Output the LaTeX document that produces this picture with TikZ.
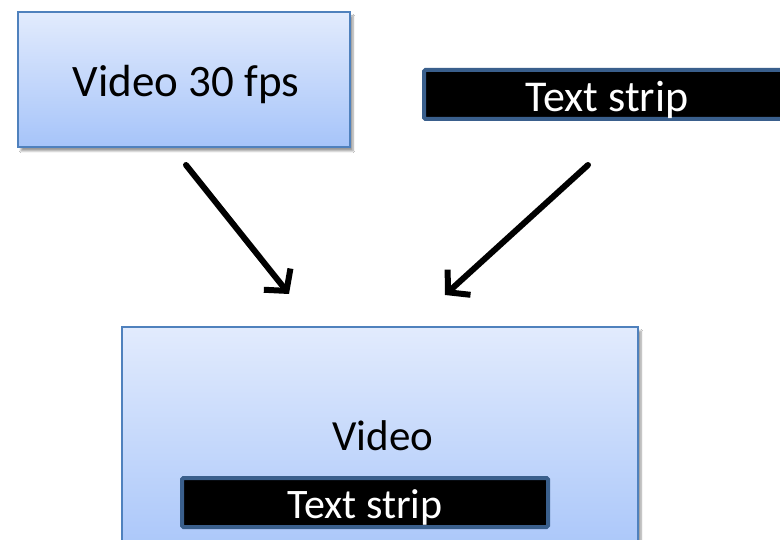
\documentclass[tikz,border=0pt]{standalone}
\usepackage{fontspec}
\setmainfont{Carlito}
\usetikzlibrary{arrows.meta,shadows.blur}
\definecolor{boxtop}{RGB}{226,235,253}
\definecolor{boxbot}{RGB}{166,196,249}
\definecolor{boxline}{RGB}{79,129,189}
\definecolor{stripline}{RGB}{58,95,140}
\tikzset{
  vbox/.style={rectangle, draw=boxline, line width=1.5pt,
    top color=boxtop, bottom color=boxbot,
    blur shadow={shadow xshift=3pt, shadow yshift=-4pt, shadow blur steps=6, shadow opacity=40}},
  strip/.style={rectangle, draw=stripline, line width=4pt, fill=black,
    rounded corners=1.5pt, inner sep=0pt},
  lbl/.style={inner sep=0pt},
  flow/.style={line width=6pt, line cap=round, line join=round,
    -{Straight Barb[length=15pt, width=34pt, line width=6pt]}}
}
\begin{document}
\begin{tikzpicture}[x=1pt,y=-1pt]
  \useasboundingbox (0,0) rectangle (780,540);
  \clip (0,0) rectangle (780,540);
  \fill[white] (0,0) rectangle (780,540);

  % source video
  \node[vbox, minimum width=332pt, minimum height=135pt] (src) at (184,79.5) {};
  \node[lbl, anchor=base] (srcT) at (186,97) {\fontsize{45}{50}\selectfont Video 30 fps};

  % overlay strip
  \node[strip, minimum width=366pt, minimum height=49pt] (ovl) at (607,94.5) {};
  \node[lbl, anchor=base, text=white] (ovlT) at (607,112) {\fontsize{44}{50}\selectfont Text strip};

  % composited result
  \node[vbox, minimum width=516pt, minimum height=240pt] (out) at (380,447) {};
  \node[lbl, anchor=base] (outT) at (383,450) {\fontsize{43}{48}\selectfont Video};
  \node[strip, minimum width=366pt, minimum height=49pt] (inner) at (365,502.5) {};
  \node[lbl, anchor=base, text=white] (innerT) at (365,518) {\fontsize{42}{46}\selectfont Text strip};

  % arrows
  \coordinate (a1s) at (186,165);
  \coordinate (a1e) at (289,294);
  \coordinate (a2s) at (588,165);
  \coordinate (a2e) at (445,295);
  \draw[flow] (a1s) -- (a1e);
  \draw[flow] (a2s) -- (a2e);
\end{tikzpicture}
\end{document}
